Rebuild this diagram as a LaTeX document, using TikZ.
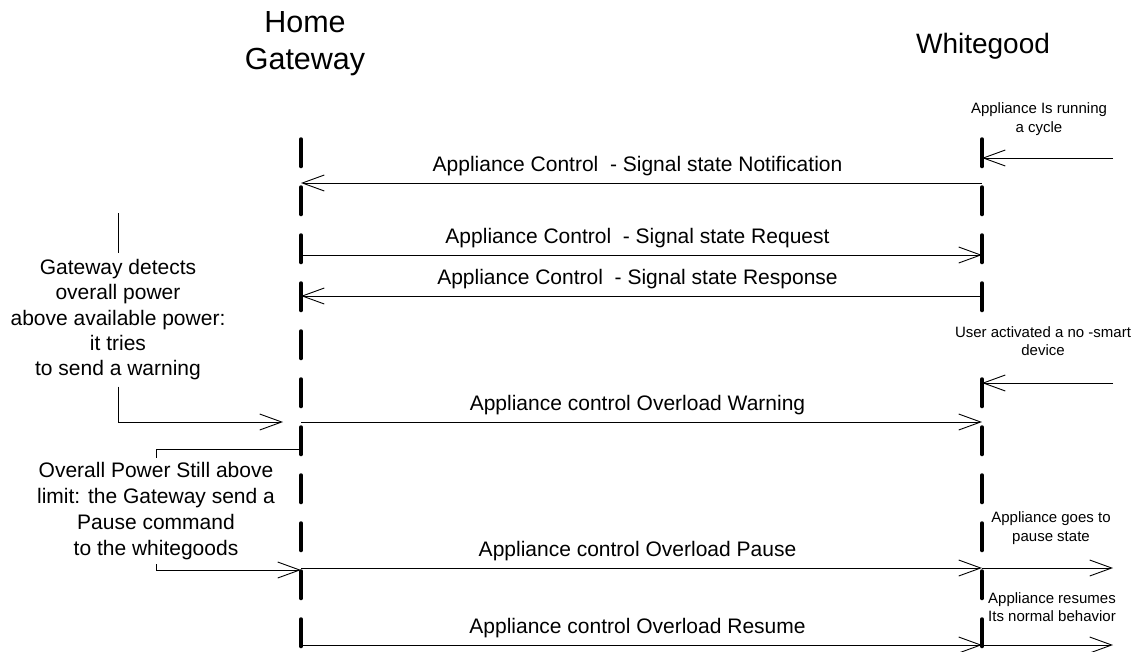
\documentclass[tikz,border=0pt]{standalone}
\usepackage{fontspec}
\setmainfont{Liberation Sans}
\usetikzlibrary{arrows.meta}

\def\lebenslinie#1#2{
	\draw[line width=3.5pt,line cap=round,dash pattern=on 27.5pt off 20.5pt] #1 -- #2;
}
\def\nachricht#1#2#3#4{
	\draw[->] #1 -- #2 node[lbl] (#3) {#4};
}

\begin{document}
\begin{tikzpicture}[x=1pt,y=-1pt,line width=0.9pt,
	>={Straight Barb[length=22pt,width=16pt]},
	kopf/.style={align=center,font=\fontsize{30.5}{37}\selectfont},
	notiz/.style={align=center,inner xsep=0pt,font=\fontsize{21}{25.3}\selectfont},
	hinweis/.style={align=center,inner sep=0pt,font=\fontsize{15}{18.5}\selectfont},
	lbl/.style={midway,anchor=base,yshift=12pt,xshift=-4pt,inner sep=0pt,font=\fontsize{21}{25}\selectfont}]
\useasboundingbox (0,0) rectangle (1138,651);
% Kopf
\node[kopf] (gw) at (305,44) {Home\\Gateway};
\node[kopf,font=\fontsize{28}{37}\selectfont] (wg) at (983,46) {Whitegood};
% Lebenslinien
\coordinate (gwA) at (301,139);
\coordinate (gwE) at (301,647);
\coordinate (wgA) at (982,139);
\coordinate (wgE) at (982,647);
\lebenslinie{(gwA)}{(gwE)}
\lebenslinie{(wgA)}{(wgE)}
% Punkte auf den Linien
\coordinate (gw1) at (301,183); \coordinate (wg1) at (982,183);
\coordinate (gw2) at (301,255); \coordinate (wg2) at (982,255);
\coordinate (gw3) at (301,296); \coordinate (wg3) at (982,296);
\coordinate (gw4) at (301,422); \coordinate (wg4) at (982,422);
\coordinate (gw5) at (301,568); \coordinate (wg5) at (982,568);
\coordinate (gw6) at (301,645); \coordinate (wg6) at (982,645);
\coordinate (wg0) at (982,158); \coordinate (ein1) at (1113,158);
\coordinate (wgU) at (982,383); \coordinate (ein2) at (1113,383);
\coordinate (aus1) at (1113,568);
\coordinate (aus2) at (1113,645);
% Nachrichten
\nachricht{(wg1)}{(gw1)}{m1}{Appliance Control\ \ - Signal state Notification}
\nachricht{(gw2)}{(wg2)}{m2}{Appliance Control\ \ - Signal state Request}
\nachricht{(wg3)}{(gw3)}{m3}{Appliance Control\ \ - Signal state Response}
\nachricht{(gw4)}{(wg4)}{m4}{Appliance control Overload Warning}
\nachricht{(gw5)}{(wg5)}{m5}{Appliance control Overload Pause}
\nachricht{(gw6)}{(wg6)}{m6}{Appliance control Overload Resume}
\draw[->] (ein1) -- (wg0);
\draw[->] (ein2) -- (wgU);
\draw[->] (wg5) -- (aus1);
\draw[->] (wg6) -- (aus2);
% Hinweise rechts
\node[hinweis] (h1) at (1039,119) {Appliance Is running\\a cycle};
\node[hinweis,fill=white,inner ysep=6pt] (h2) at (1043,341) {User activated a no -smart\\device};
\node[hinweis] (h3) at (1051,528) {Appliance goes to\\pause state};
\node[hinweis] (h4) at (1052,607) {Appliance resumes\\Its normal behavior};
% Notizen links
\coordinate (n1a) at (118,213);
\coordinate (n1z) at (283,422);
\node[notiz,anchor=north,inner ysep=6pt] (n1) at (118,253)
	{Gateway detects\\overall power\\above available power:\\it tries\\to send a warning};
\draw (n1a) -- (n1.north);
\draw[->] (n1.south) |- (n1z);
\coordinate (n2a) at (301,449);
\coordinate (n2z) at (301,570);
\node[notiz,anchor=north,inner ysep=4pt,font=\fontsize{21}{26}\selectfont] (n2) at (156,458)
	{Overall Power Still above\\limit: the Gateway send a\\Pause command\\to the whitegoods};
\draw (n2a) -| (n2.north);
\draw[->] (n2.south) |- (n2z);
\end{tikzpicture}
\end{document}
